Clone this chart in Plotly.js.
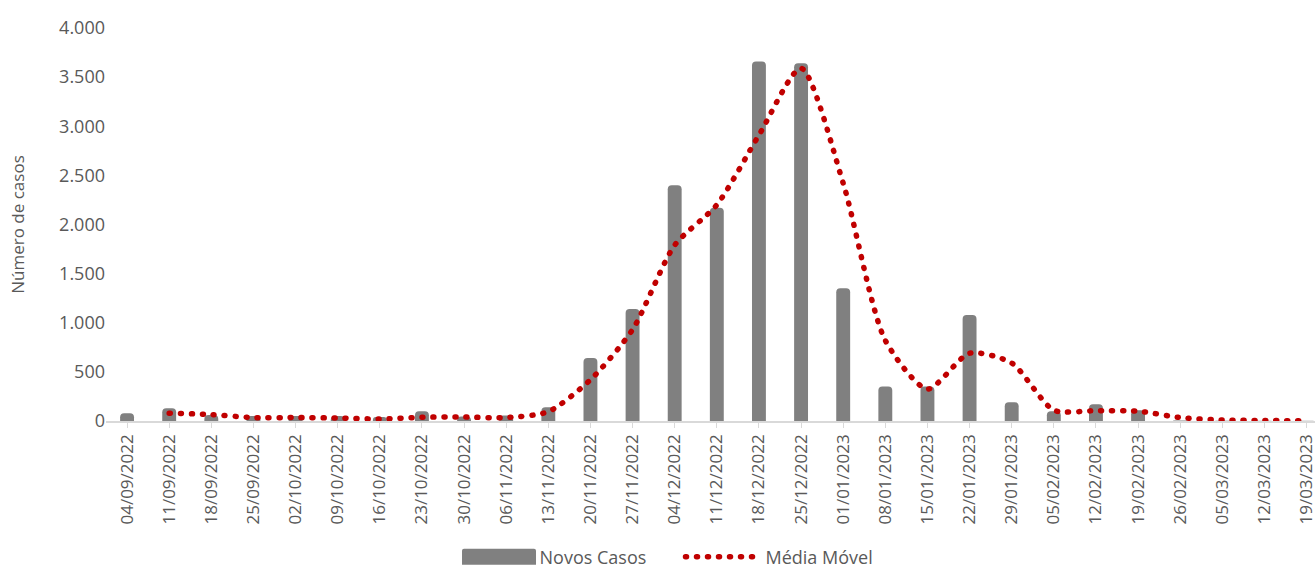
<!DOCTYPE html>
<html>
<head>
<meta charset="utf-8">
<script src="https://cdn.plot.ly/plotly-3.0.1.min.js"></script>
<style>
html,body{margin:0;padding:0;background:#fff;}
#chart{width:1315px;height:569px;}
.scatterlayer .js-line, .legend .js-line{stroke-linecap:round;}
</style>
</head>
<body>
<div id="chart"></div>
<script>
var categories = ["04/09/2022","11/09/2022","18/09/2022","25/09/2022","02/10/2022","09/10/2022","16/10/2022","23/10/2022","30/10/2022","06/11/2022","13/11/2022","20/11/2022","27/11/2022","04/12/2022","11/12/2022","18/12/2022","25/12/2022","01/01/2023","08/01/2023","15/01/2023","22/01/2023","29/01/2023","05/02/2023","12/02/2023","19/02/2023","26/02/2023","05/03/2023","12/03/2023","19/03/2023"];
var novosCasos = [80,130,60,50,50,50,40,100,45,55,140,640,1140,2400,2170,3660,3640,1350,350,350,1080,190,100,170,110,5,3,2,2];
var mediaMovel = [null,80,65,35,35,30,20,38,40,35,95,420,930,1790,2200,2910,3590,2420,820,325,690,590,110,105,100,35,10,5,3];

var traces = [
  {type:'bar', name:'Novos Casos', x:categories, y:novosCasos,
   marker:{color:'#808080', cornerradius:4}},
  {type:'scatter', mode:'lines', name:'Média Móvel', x:categories, y:mediaMovel,
   line:{color:'#C00000', width:5.5, dash:'1px,10px', shape:'spline', smoothing:0.7},
   connectgaps:false}
];
var layout = {
  width:1315, height:569,
  margin:{l:106, r:0, t:28, b:148, autoexpand:false},
  paper_bgcolor:'#fff', plot_bgcolor:'#fff',
  separators:',.',
  font:{family:'"Open Sans", sans-serif', color:'#595959'},
  bargap:0.67,
  showlegend:true,
  legend:{orientation:'h', xref:'container', x:0.5175, xanchor:'center', yref:'paper', y:-0.346, yanchor:'middle',
          font:{size:18, color:'#595959'}, traceorder:'normal', itemwidth:75, entrywidth:136},
  xaxis:{type:'category', range:[-0.5,28.2], tickangle:-90, tickfont:{size:17, color:'#595959'},
         showline:true, linecolor:'#D9D9D9', linewidth:1.5, ticks:'outside', ticklen:5, tickcolor:'#D9D9D9',
         showgrid:false, zeroline:false, fixedrange:true, automargin:false},
  yaxis:{range:[0,4000], dtick:500, tickformat:',d', tickfont:{size:18, color:'#595959'},
         showgrid:false, zeroline:false, showline:false, ticks:'', automargin:false,
         title:{text:'Número de casos', font:{size:17, color:'#595959'}, standoff:30}}
};
function widenBarLegend(){
  var ps = document.querySelectorAll('.legend .legendpoints path');
  ps.forEach(function(p){
    p.setAttribute('d','M39,8H-35V-6Q-35,-8 -33,-8H37Q39,-8 39,-6Z');
  });
}
Plotly.newPlot('chart', traces, layout, {displayModeBar:false, staticPlot:true}).then(widenBarLegend);
</script>
</body>
</html>
